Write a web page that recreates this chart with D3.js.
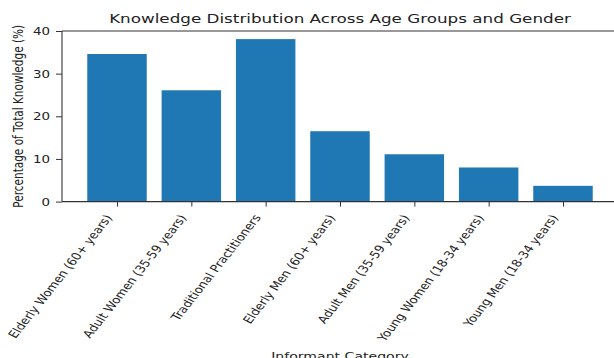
<!DOCTYPE html>
<html>
<head>
<meta charset="utf-8">
<script src="https://cdn.jsdelivr.net/npm/d3@7"></script>
<style>
  html, body { margin: 0; padding: 0; background: #fff; }
  svg { display: block; }
  text { font-family: "DejaVu Sans", sans-serif; fill: #222; }
</style>
</head>
<body>
<svg id="chart" width="614" height="358"></svg>
<script>
// Share of total knowledge held by each informant group (%)
const categories = [
  "Elderly Women (60+ years)",
  "Adult Women (35-59 years)",
  "Traditional Practitioners",
  "Elderly Men (60+ years)",
  "Adult Men (35-59 years)",
  "Young Women (18-34 years)",
  "Young Men (18-34 years)"
];
const values = [34.6, 26.1, 38.1, 16.5, 11.1, 8.0, 3.7];
const yTicks = [0, 10, 20, 30, 40];
const titleText = "Knowledge Distribution Across Age Groups and Gender";
const xLabelText = "Informant Category";
const yLabelText = "Percentage of Total Knowledge (%)";

const W = 614, H = 358;
const plot = { left: 62, right: 618, top: 31, bottom: 201.6 };
const sx = 1.28;          // glyphs are drawn wider than tall
const barColor = "#1f77b4";
const axisColor = "#333";

const svg = d3.select("#chart");

// Category positions: matplotlib-style bar layout (width 0.8, 5% margins)
const n = categories.length;
const idx = d3.scaleLinear()
  .domain([-0.4 - 0.05 * (n - 0.2), n - 0.6 + 0.05 * (n - 0.2)])
  .range([plot.left, plot.right]);
const y = d3.scaleLinear().domain([0, 40]).range([plot.bottom, plot.top]);

// Bars
svg.append("g").selectAll("rect")
  .data(values)
  .join("rect")
  .attr("x", (d, i) => idx(i - 0.4))
  .attr("width", (d, i) => idx(i + 0.4) - idx(i - 0.4))
  .attr("y", d => y(d))
  .attr("height", d => y(0) - y(d))
  .attr("fill", barColor);

// Frame (left, top, bottom; right edge lies beyond the page)
const frame = svg.append("g").attr("stroke", axisColor).attr("stroke-width", 1.1).attr("fill", "none");
frame.append("line").attr("x1", plot.left).attr("x2", plot.left).attr("y1", plot.top).attr("y2", plot.bottom);
frame.append("line").attr("x1", plot.left).attr("x2", plot.right).attr("y1", plot.top).attr("y2", plot.top);
frame.append("line").attr("x1", plot.left).attr("x2", plot.right).attr("y1", plot.bottom).attr("y2", plot.bottom);

// Y axis ticks and labels
const yAxis = svg.append("g").attr("transform", `translate(${plot.left},0)`)
  .call(d3.axisLeft(y).tickValues(yTicks).tickSize(6).tickPadding(6).tickFormat(d3.format("d")));
yAxis.select(".domain").remove();
yAxis.selectAll(".tick line").attr("stroke", axisColor);
yAxis.selectAll(".tick text")
  .attr("font-size", 10.5)
  .attr("fill", "#222")
  .attr("dy", "0.35em")
  .attr("x", null)
  .attr("transform", `translate(-12,0) scale(${sx},1)`);

// X axis ticks
const xAxis = svg.append("g").attr("transform", `translate(0,${plot.bottom})`)
  .call(d3.axisBottom(idx).tickValues(d3.range(n)).tickSize(5).tickFormat(""));
xAxis.select(".domain").remove();
xAxis.selectAll(".tick line").attr("stroke", axisColor);

// Rotated category labels
svg.append("g").selectAll("text")
  .data(categories)
  .join("text")
  .attr("text-anchor", "end")
  .attr("dominant-baseline", "central")
  .attr("font-size", 10.4)
  .attr("transform", (d, i) => `translate(${idx(i) - 8},${plot.bottom + 14}) scale(${sx},1) rotate(-58)`)
  .text(d => d);

// Title
svg.append("text")
  .attr("text-anchor", "middle")
  .attr("font-size", 13.1)
  .attr("fill", "#111")
  .attr("transform", `translate(${(plot.left + plot.right) / 2},23) scale(${sx},1)`)
  .text(titleText);

// Axis titles
svg.append("text")
  .attr("text-anchor", "middle")
  .attr("font-size", 11)
  .attr("transform", `translate(${(plot.left + plot.right) / 2},360) scale(${sx},1)`)
  .text(xLabelText);

svg.append("text")
  .attr("text-anchor", "middle")
  .attr("font-size", 10.5)
  .attr("transform", `translate(23,${(plot.top + plot.bottom) / 2}) scale(${sx},1) rotate(-90)`)
  .text(yLabelText);
</script>
</body>
</html>
